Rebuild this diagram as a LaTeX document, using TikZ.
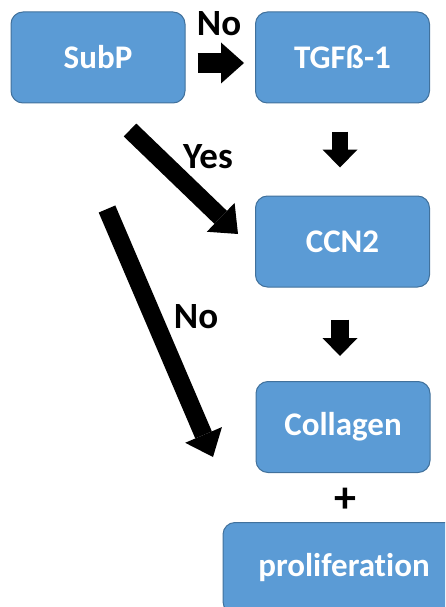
\documentclass[tikz,border=0pt]{standalone}
\usepackage{fontspec}
\setmainfont[Ligatures=NoCommon]{Carlito}
\usetikzlibrary{arrows.meta}

\definecolor{boxblue}{HTML}{5B9BD5}
\definecolor{boxedge}{HTML}{41719C}

\begin{document}
\begin{tikzpicture}[x=1pt, y=-1pt,
    box/.style={fill=boxblue, draw=boxedge, line width=1pt, rounded corners=12pt,
        minimum width=174pt, minimum height=91pt, text=white,
        font=\bfseries\fontsize{33}{38}\selectfont},
    lbl/.style={anchor=base, font=\bfseries\fontsize{37}{42}\selectfont},
    fat/.style n args={3}{line width=#1, -{Triangle[width=#2,length=#3,line width=0pt]}}]
    \useasboundingbox (0,0) rectangle (445,607);
    \clip (0,0) rectangle (445,607);

    % Draw boxes
    \node[box] (subp) at (98,57.5) {SubP};
    \node[box] (tgf) at (342.5,57.5) {TGFß-1};
    \node[box] (ccn) at (342.5,241.5) {CCN2};
    \node[box] (col) at (343,427) {Collagen};
    \node[box, minimum width=242pt] (prol) at (344,568) {proliferation};
    \node[font=\bfseries\fontsize{44}{46}\selectfont] (plus) at (345,500) {+};

    % Free ends of the long arrows
    \coordinate (yesfrom) at (130,130);
    \coordinate (yesto) at (238,234);
    \coordinate (nofrom) at (107,209);
    \coordinate (noto) at (213,457);

    % Draw arrows
    \draw[fat={20pt}{41pt}{23pt}] ([xshift=12pt,yshift=-5.5pt]subp.east) -- ([xshift=-11pt,yshift=-5.5pt]tgf.west);
    \draw[fat={16pt}{35pt}{18pt}] ([xshift=-2.5pt,yshift=-28pt]tgf.south) -- ([xshift=-2.5pt,yshift=28pt]ccn.north);
    \draw[fat={18pt}{35pt}{18pt}] ([xshift=-2.5pt,yshift=-32pt]ccn.south) -- ([xshift=-3pt,yshift=25pt]col.north);
    \draw[fat={18pt}{40pt}{24pt}] (yesfrom) -- (yesto);
    \draw[fat={18pt}{40pt}{24pt}] (nofrom) -- (noto);

    % Labels on the arrows
    \node[lbl] (nolbl) at (219,36) {No};
    \node[lbl] (yeslbl) at (208,168) {Yes};
    \node[lbl] (nolbl2) at (196,328) {No};
\end{tikzpicture}
\end{document}
